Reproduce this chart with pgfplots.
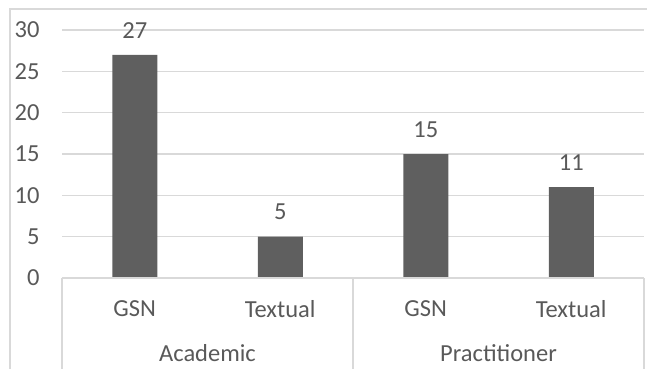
\documentclass[border=0pt]{standalone}
\usepackage{pgfplots}
\pgfplotsset{compat=1.18}
\usepackage{fontspec}
\setmainfont{Carlito}
\definecolor{txt}{HTML}{595959}
\definecolor{gridc}{HTML}{D9D9D9}
\definecolor{barc}{HTML}{5F5F5F}
\begin{document}
\begin{tikzpicture}[x=1bp,y=1bp]
\clip (0,0) rectangle (647,368);
\path[use as bounding box] (0,0) rectangle (647,368);
\draw[gridc, line width=1.2bp] (10,-10) rectangle (660,359);
\begin{axis}[
  at={(62bp,90bp)}, anchor=south west,
  scale only axis, width=582bp, height=248bp,
  xmin=-0.5, xmax=3.5, ymin=0, ymax=30,
  ytick={0,5,...,30},
  xtick=\empty,
  axis line style={draw=none},
  ymajorgrids, grid style={draw=gridc, line width=1.5bp},
  major tick length=0pt,
  tick style={draw=none},
  font=\fontsize{24.5bp}{29bp}\selectfont,
  /pgf/number format/assume math mode=true,
  yticklabel style={text=txt, xshift=-19bp},
  ybar, bar width=45bp,
  nodes near coords,
  every node near coord/.append style={text=txt, yshift=13bp},
  clip=false,
]
\addplot[fill=barc, draw=none] coordinates {(0,27) (1,5) (2,15) (3,11)};
\end{axis}
\begin{scope}[font=\fontsize{24.5bp}{29bp}\selectfont, text=txt]
\draw[gridc, line width=1.5bp] (62,90) -- (644,90);
\draw[gridc, line width=1.5bp] (62,90) -- (62,-10);
\draw[gridc, line width=1.5bp] (353,90) -- (353,-10);
\draw[gridc, line width=1.5bp] (644,90) -- (644,-10);
\node at (134.75,59) {GSN};
\node at (280.25,59) {Textual};
\node at (425.75,59) {GSN};
\node at (571.25,59) {Textual};
\node at (207.5,15) {Academic};
\node at (498.5,15) {Practitioner};
\end{scope}
\end{tikzpicture}
\end{document}
